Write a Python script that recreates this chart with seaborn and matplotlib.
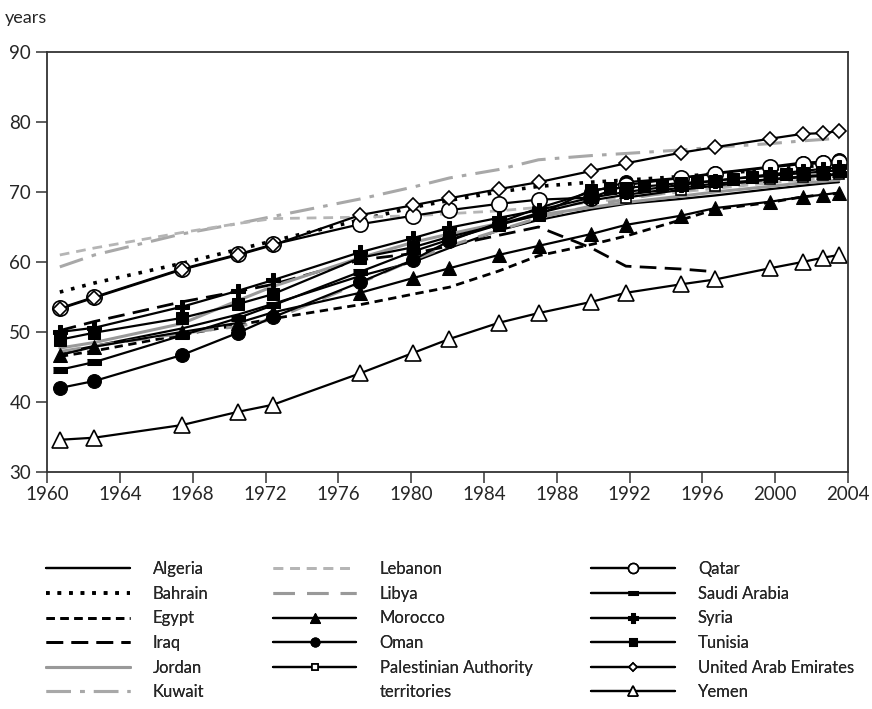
import numpy as np
import seaborn as sns
import matplotlib.pyplot as plt
from matplotlib.lines import Line2D

# years as placed on the chart
years = [1960.7, 1962.6, 1967.4, 1970.5, 1972.4, 1977.2, 1980.1, 1982.1, 1984.8,
         1987.0, 1989.9, 1991.8, 1994.8, 1996.7, 1999.7, 2001.5, 2002.6, 2003.5]
years_iraq = years[:14]
years_pal = years[11:]
years_tunisia = years[:10] + [1989.9, 1990.9, 1991.8, 1992.8, 1993.8, 1994.8, 1995.7,
                              1996.7, 1997.7, 1998.7, 1999.7, 2000.6, 2001.5, 2002.6, 2003.5]

algeria = [47.0, 48.0, 50.5, 52.5, 54.0, 58.0, 60.0, 62.0, 64.5, 66.0, 67.5, 68.3, 69.0, 69.5, 70.4, 70.9, 71.2, 71.4]
bahrain = [55.7, 57.0, 59.8, 61.8, 63.0, 66.0, 67.8, 68.8, 70.0, 70.8, 71.4, 71.7, 72.2, 72.6, 73.2, 73.6, 73.8, 74.0]
egypt = [46.5, 47.3, 49.6, 51.0, 51.9, 53.9, 55.4, 56.4, 58.7, 60.9, 62.5, 63.7, 66.0, 67.5, 68.5, 69.3, 69.6, 69.8]
iraq = [50.2, 51.5, 54.3, 55.8, 56.8, 60.3, 61.2, 62.3, 63.8, 65.0, 62.0, 59.4, 59.0, 58.6]
jordan = [47.7, 48.5, 51.2, 54.5, 56.5, 60.6, 62.8, 64.0, 65.5, 66.7, 67.8, 68.5, 69.4, 70.0, 70.8, 71.3, 71.5, 71.7]
kuwait = [59.3, 61.0, 64.0, 65.5, 66.5, 69.0, 70.7, 72.0, 73.2, 74.6, 75.2, 75.5, 76.0, 76.4, 76.9, 77.3, 77.5, 77.7]
lebanon = [61.0, 62.0, 64.2, 65.5, 66.2, 66.4, 66.6, 66.9, 67.3, 67.8, 68.5, 69.2, 70.0, 70.5, 71.3, 71.7, 71.9, 72.0]
libya = [47.2, 48.0, 49.8, 50.8, 51.8, 57.0, 60.3, 62.3, 64.5, 66.3, 68.0, 69.0, 70.2, 70.8, 71.7, 72.2, 72.5, 72.7]
morocco = [46.7, 47.9, 50.0, 51.3, 52.8, 55.6, 57.7, 59.1, 61.0, 62.3, 64.0, 65.3, 66.6, 67.7, 68.6, 69.3, 69.6, 69.9]
oman = [42.0, 43.0, 46.7, 49.9, 52.1, 57.1, 60.3, 63.0, 65.6, 67.7, 70.0, 71.4, 72.0, 72.7, 73.6, 74.2, 74.3, 74.6]
palestine = [69.2, 70.3, 70.9, 71.8, 72.2, 72.4, 72.6]
qatar = [53.4, 55.0, 59.0, 61.1, 62.5, 65.4, 66.6, 67.4, 68.3, 68.9, 69.2, 71.0, 72.0, 72.6, 73.5, 74.0, 74.1, 74.3]
saudi = [44.6, 45.7, 49.5, 52.0, 53.8, 58.6, 61.5, 63.2, 65.3, 67.0, 68.8, 69.6, 70.6, 71.2, 71.8, 72.1, 72.3, 72.5]
syria = [50.0, 50.6, 53.6, 55.9, 57.4, 61.4, 63.4, 64.9, 66.3, 67.4, 69.2, 70.0, 71.0, 71.6, 72.5, 73.0, 73.3, 73.5]
tunisia = [48.9, 49.9, 52.0, 54.0, 55.4, 60.6, 62.1, 63.6, 65.3, 66.7,
           70.3, 70.5, 70.6, 70.8, 71.0, 71.3, 71.4, 71.6, 71.9, 72.1, 72.3, 72.5, 72.7, 72.9, 73.1]
uae = [53.3, 54.9, 58.9, 61.0, 62.4, 66.7, 68.1, 69.1, 70.4, 71.4, 73.0, 74.1, 75.6, 76.4, 77.6, 78.3, 78.4, 78.7]
yemen = [34.6, 34.9, 36.7, 38.6, 39.6, 44.1, 47.0, 49.0, 51.3, 52.7, 54.3, 55.6, 56.8, 57.5, 59.1, 60.0, 60.6, 61.0]

sns.set_style("ticks")
plt.rcParams['font.family'] = ['Lato', 'DejaVu Sans']

fig = plt.figure(figsize=(8.72, 7.09), dpi=100)
ax = fig.add_axes([0.054, 0.3343, 0.9185, 0.5924])

rect = [(-1, -0.4), (1, -0.4), (1, 0.4), (-1, 0.4)]

series = [
    ("Algeria", years, algeria, dict(color="black", lw=1.6, linestyle="-")),
    ("Bahrain", years, bahrain, dict(color="black", lw=2.6, linestyle=(0, (1, 2.2)))),
    ("Egypt", years, egypt, dict(color="black", lw=2.0, linestyle=(0, (3, 2)))),
    ("Iraq", years_iraq, iraq, dict(color="black", lw=2.0, linestyle=(0, (6, 3)))),
    ("Jordan", years, jordan, dict(color="#999999", lw=2.2, linestyle="-")),
    ("Kuwait", years, kuwait, dict(color="#a8a8a8", lw=2.2, linestyle=(0, (8, 3, 1.5, 3)))),
    ("Lebanon", years, lebanon, dict(color="#b5b5b5", lw=2.0, linestyle=(0, (3.5, 2.5)))),
    ("Libya", years, libya, dict(color="#999999", lw=2.2, linestyle=(0, (7, 4)))),
    ("Morocco", years, morocco, dict(color="black", lw=1.6, marker="^", ms=10, mfc="black", mec="black")),
    ("Oman", years, oman, dict(color="black", lw=1.6, marker="o", ms=10, mfc="black", mec="black")),
    ("Palestinian Authority", years_pal, palestine, dict(color="black", lw=1.6, marker="s", ms=7, mfc="white", mec="black", mew=1.2)),
    ("Qatar", years, qatar, dict(color="black", lw=1.6, marker="o", ms=11, mfc="white", mec="black", mew=1.2)),
    ("Saudi Arabia", years, saudi, dict(color="black", lw=1.6, marker=rect, ms=10, mfc="black", mec="black")),
    ("Syria", years, syria, dict(color="black", lw=1.6, marker="P", ms=10, mfc="black", mec="black")),
    ("Tunisia", years_tunisia, tunisia, dict(color="black", lw=1.6, marker="s", ms=9, mfc="black", mec="black")),
    ("United Arab Emirates", years, uae, dict(color="black", lw=1.6, marker="D", ms=7, mfc="white", mec="black", mew=1.2)),
    ("Yemen", years, yemen, dict(color="black", lw=1.6, marker="^", ms=12, mfc="white", mec="black", mew=1.2)),
]

handles = {}
for name, xs, ys, kw in series:
    sns.lineplot(x=xs, y=ys, ax=ax, legend=False, **kw)
    handles[name] = ax.get_lines()[-1]

ax.set_xlim(1960, 2004)
ax.set_ylim(30, 90)
ax.set_xticks(np.arange(1960, 2005, 4))
ax.set_yticks(np.arange(30, 91, 10))
for s in ax.spines.values():
    s.set_visible(True)
    s.set_color("#333333")
    s.set_linewidth(1.3)
ax.tick_params(axis="both", length=8, width=1.1, color="#333333", labelsize=13.5)
ax.tick_params(axis="x", pad=2)

fig.text(0.006, 1 - 18 / 709, "years", fontsize=13, va="center", ha="left")

blank = Line2D([], [], linestyle="none")
cols = [
    (["Algeria", "Bahrain", "Egypt", "Iraq", "Jordan", "Kuwait"], 0.053),
    (["Lebanon", "Libya", "Morocco", "Oman", "Palestinian Authority", None], 0.313),
    (["Qatar", "Saudi Arabia", "Syria", "Tunisia", "United Arab Emirates", "Yemen"], 0.678),
]
for names, x0 in cols:
    hs = [handles[n] if n else blank for n in names]
    labels = [n if n else "territories" for n in names]
    leg = fig.legend(hs, labels, loc="upper left", bbox_to_anchor=(x0, 1 - 561 / 709),
                     frameon=False, fontsize=12, handlelength=5.0, handletextpad=1.4,
                     labelspacing=0.52, borderpad=0, borderaxespad=0, numpoints=1,
                     markerscale=0.65)
    fig.add_artist(leg)

fig.savefig("out.png", dpi=100)
